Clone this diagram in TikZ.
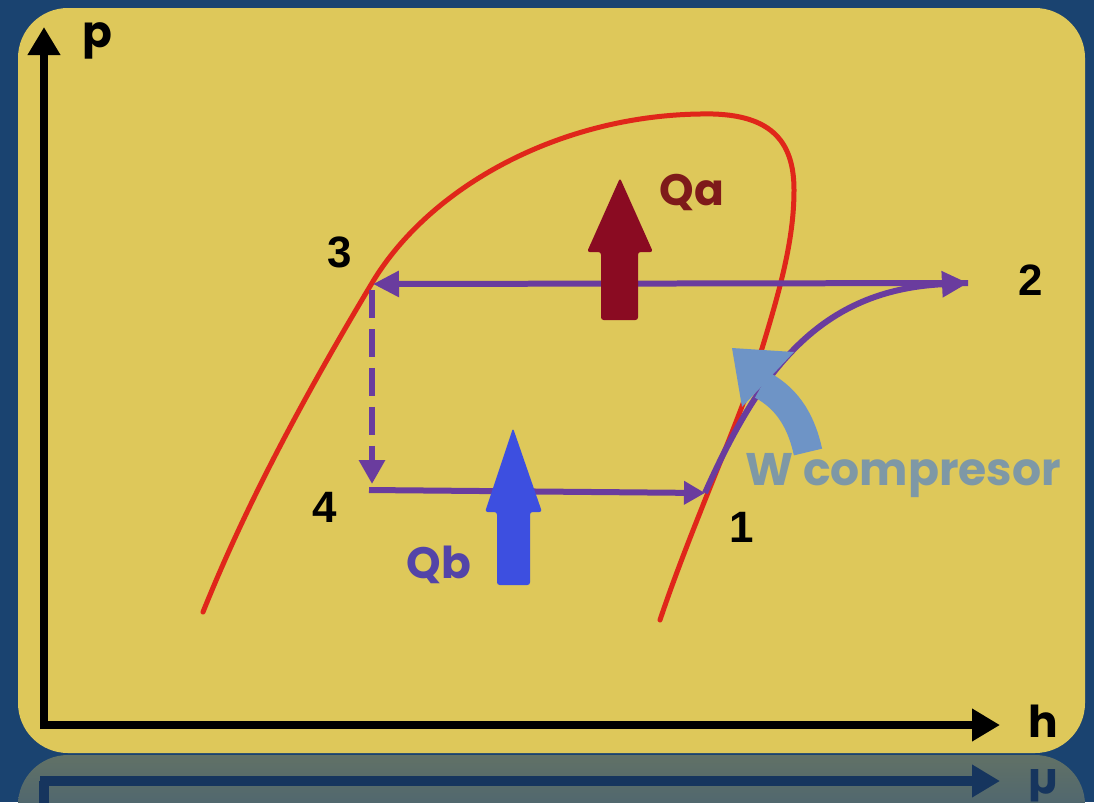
\documentclass[tikz,border=0pt]{standalone}
\usepackage{fontspec}
\setmainfont{Poppins}
\newfontfamily\numfont{Liberation Sans}
\usetikzlibrary{arrows.meta}
\definecolor{bgblue}{HTML}{1A4370}
\definecolor{boxyellow}{HTML}{DEC85A}
\definecolor{refltop}{HTML}{617166}
\definecolor{reflbot}{HTML}{3E5C78}
\definecolor{refline}{HTML}{16355E}
\definecolor{curvered}{HTML}{E0261A}
\definecolor{cyclepurple}{HTML}{6A3C9E}
\definecolor{qacol}{HTML}{8A0B22}
\definecolor{qatext}{HTML}{7E1A1A}
\definecolor{qbcol}{HTML}{3D4FE0}
\definecolor{qbtext}{HTML}{5344A8}
\definecolor{wcol}{HTML}{6E94C6}
\definecolor{wtext}{HTML}{7E98A6}
\tikzset{
  axisline/.style={line width=0.17cm, black, -{Triangle[length=0.56cm,width=0.62cm]}},
  cycleline/.style={line width=0.12cm, cyclepurple, -{Triangle[length=0.52cm,width=0.5cm]}},
  ptlabel/.style={font=\numfont\bfseries\fontsize{25}{25}\selectfont, text=black, inner sep=0pt},
  axlabel/.style={font=\bfseries\fontsize{25}{25}\selectfont, text=black, inner sep=0pt},
  qlabel/.style={font=\bfseries\fontsize{25}{25}\selectfont, inner sep=0pt, anchor=base},
}
\begin{document}
\begin{tikzpicture}[x=0.02cm,y=-0.02cm]
\useasboundingbox (0,0) rectangle (1094,802);
\fill[bgblue] (0,0) rectangle (1094,802);
\begin{scope}
\clip (0,0) rectangle (1094,802);
% reflection
\shade[top color=refltop, bottom color=reflbot, rounded corners=1cm]
  (18,860) -- (18,755) -- (1085,755) -- (1085,860) -- cycle;
\draw[line width=0.2cm, refline] (44,781) -- (44,810);
\draw[line width=0.2cm, refline, -{Triangle[length=0.56cm,width=0.62cm]}] (40,781) -- (1000,781);
\node[axlabel, text=refline, yscale=-1] (hrefl) at (1043,786) {h};
\end{scope}
% panel
\fill[boxyellow, rounded corners=1cm] (18,8) rectangle (1085,753);
% axes
\coordinate (O) at (44,725);
\coordinate (Ptop) at (44,27);
\coordinate (Hend) at (1000,725);
\draw[axisline] ([yshift=-0.08cm]O) -- (Ptop);
\draw[axisline] ([xshift=-0.08cm]O) -- (Hend);
\node[axlabel] (plabel) at (97,41) {p};
\node[axlabel] (hlabel) at (1043,721) {h};
% saturation curve
\draw[curvered, line width=0.1cm, line cap=round]
  (203,612) .. controls (240,520) and (290,420) .. (372,283)
  .. controls (430,186) and (560,116) .. (700,114)
  .. controls (770,112) and (794,140) .. (794,190)
  .. controls (794,240) and (780,290) .. (760,355)
  .. controls (740,420) and (690,530) .. (660,620);
% cycle points
\coordinate (P3) at (373,284);
\coordinate (P2) at (968,283);
\coordinate (P4) at (372,490);
\coordinate (P1) at (705,493);
\coordinate (P4top) at (372,484);
\draw[cycleline] (P2) -- (P3);
\draw[cycleline, -{Triangle[length=0.48cm,width=0.5cm]}, dash pattern=on 0.56cm off 0.22cm] (372,290) -- (P4top);
\draw[cycleline, -{Triangle[length=0.42cm,width=0.45cm]}] ([xshift=-0.06cm]P4) -- (P1);
\fill[qacol, rounded corners=1.5pt] (601,320) -- (601,252) -- (587,252) -- (620,178) -- (653,252) -- (638,252) -- (638,320) -- cycle;
\fill[qbcol, rounded corners=1.5pt] (497,585) -- (497,512) -- (485,512) -- (513,428) -- (542,512) -- (530,512) -- (530,585) -- cycle;
\draw[cycleline] (P1) .. controls (760,370) and (820,290) .. (P2);
% W arrow
\draw[wcol, line width=0.58cm] (808,452) .. controls (802,425) and (790,400) .. (762,385);
\fill[wcol] (732,348) -- (794,352) -- (742,407) -- cycle;
% labels
\node[ptlabel] (n3) at (340,252) {3};
\node[ptlabel] (n4) at (325,507) {4};
\node[ptlabel] (n1) at (742,527) {1};
\node[ptlabel] (n2) at (1031,280) {2};
\node[qlabel, text=qatext] (qa) at (692,205) {Qa};
\node[qlabel, text=qbtext] (qb) at (439,578) {Qb};
\node[qlabel, text=wtext, anchor=base west, font=\bfseries\fontsize{26}{26}\selectfont] (wc) at (745,485) {W compresor};
\end{tikzpicture}
\end{document}
